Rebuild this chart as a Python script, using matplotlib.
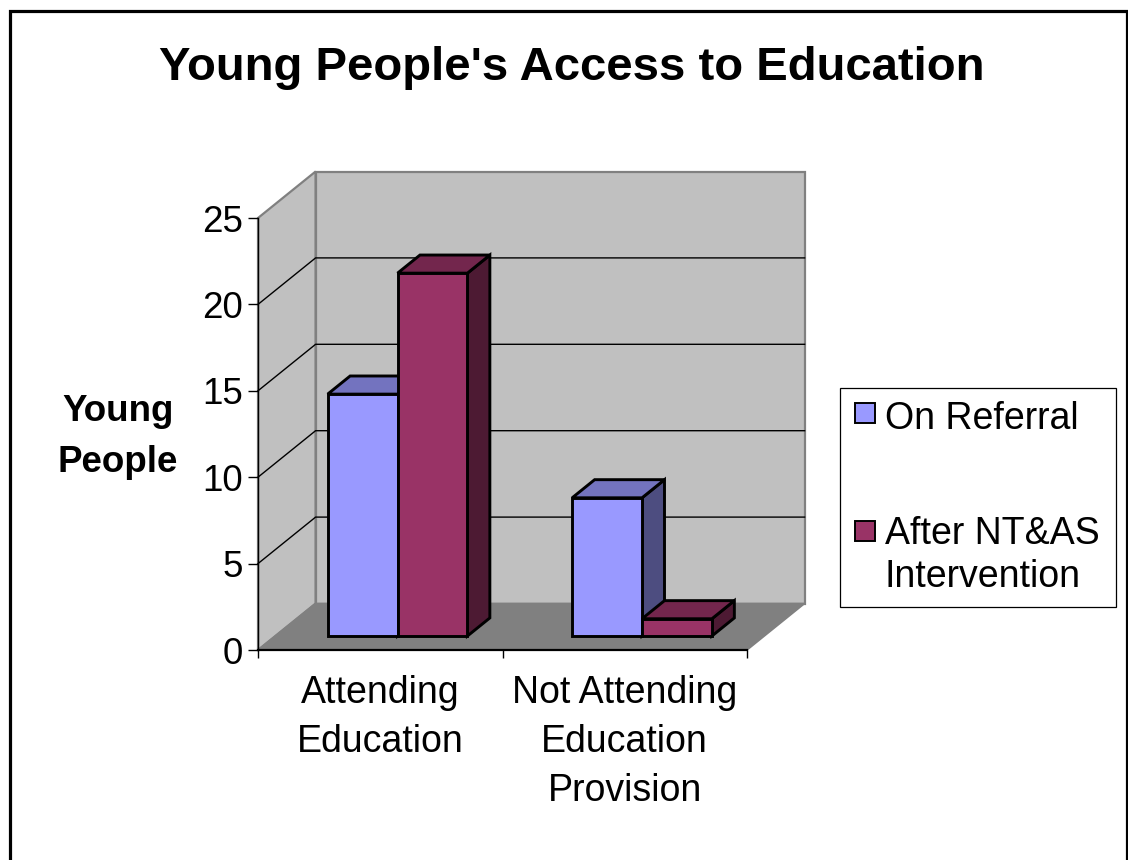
import matplotlib
matplotlib.use("Agg")
import matplotlib.pyplot as plt
from matplotlib.patches import Polygon, Rectangle

# ---------------- data ----------------
title = "Young People's Access to Education"
categories = ["Attending\nEducation", "Not Attending\nEducation\nProvision"]
series_names = ["On Referral", "After NT&AS\nIntervention"]
on_referral = [14, 8]
after_intervention = [21, 1]
y_ticks = [0, 5, 10, 15, 20, 25]
y_label = "Young\nPeople"

series = [on_referral, after_intervention]
# (front, top, side) colours per series
series_colors = [("#9999FF", "#7373BF", "#4D4D80"),
                 ("#993366", "#73264D", "#4D1A33")]

# ---------------- figure ----------------
W, H = 1128, 860
plt.rcParams['font.family'] = ['Liberation Sans', 'DejaVu Sans']
fig = plt.figure(figsize=(W / 100, H / 100), dpi=100)
fig.patch.set_facecolor("white")


def fx(px):
    return px / W


def fy(py):
    return 1 - py / H


# front plane of the 3-D box: x 258..747 px, y 650 (0) .. 218 (25)
ax = fig.add_axes([fx(258), fy(650), (747 - 258) / W, (650 - 218) / H])
n = len(categories)
ymax = y_ticks[-1]
ax.set_xlim(0, n)
ax.set_ylim(0, ymax)
ax.patch.set_visible(False)

px_per_cat = (747 - 258) / n
px_per_val = (650 - 218) / ymax
DX = 57.6 / px_per_cat      # depth offset in category units
DY = 46.5 / px_per_val      # depth offset in value units


def P(x, y, f):
    return (x + f * DX, y + f * DY)


wall_c, floor_c, edge_c = "#C0C0C0", "#808080", "#808080"

# walls
ax.add_patch(Polygon([P(0, 0, 0), P(0, 0, 1), P(0, ymax, 1), P(0, ymax, 0)],
                     closed=True, fc=wall_c, ec=edge_c, lw=1.6, clip_on=False, zorder=1))
ax.add_patch(Polygon([P(0, 0, 1), P(n, 0, 1), P(n, ymax, 1), P(0, ymax, 1)],
                     closed=True, fc=wall_c, ec=edge_c, lw=1.6, clip_on=False, zorder=1))
# gridlines on walls
for v in y_ticks[1:-1]:
    pts = [P(0, v, 0), P(0, v, 1), P(n, v, 1)]
    ax.plot([p[0] for p in pts], [p[1] for p in pts], color="black", lw=1.0,
            clip_on=False, zorder=1.5, solid_joinstyle="miter")
# floor
ax.add_patch(Polygon([P(0, 0, 0), P(n, 0, 0), P(n, 0, 1), P(0, 0, 1)],
                     closed=True, fc=floor_c, ec=edge_c, lw=1.2, clip_on=False, zorder=1.8))

# bars
gap = 1.5
bw = 1.0 / (len(series) + gap)
f0, f1 = 0.30, 0.69
for i in range(n):
    for s, vals in enumerate(series):
        v = vals[i]
        fc_front, fc_top, fc_side = series_colors[s]
        x0 = i + gap / 2 * bw + s * bw
        x1 = x0 + bw
        kw = dict(closed=True, ec="black", lw=2.1, clip_on=False,
                  joinstyle="miter", zorder=3)
        ax.add_patch(Polygon([P(x1, 0, f0), P(x1, 0, f1), P(x1, v, f1), P(x1, v, f0)],
                             fc=fc_side, **kw))
        ax.add_patch(Polygon([P(x0, v, f0), P(x1, v, f0), P(x1, v, f1), P(x0, v, f1)],
                             fc=fc_top, **kw))
        ax.add_patch(Polygon([P(x0, 0, f0), P(x1, 0, f0), P(x1, v, f0), P(x0, v, f0)],
                             fc=fc_front, **kw))

# axes lines and ticks
for side in ("top", "right"):
    ax.spines[side].set_visible(False)
ax.spines["left"].set_color("black")
ax.spines["left"].set_linewidth(1.0)
ax.spines["bottom"].set_color("black")
ax.spines["bottom"].set_linewidth(1.6)
ax.spines["left"].set_zorder(2)
ax.spines["bottom"].set_zorder(2)

ax.set_yticks(y_ticks)
ax.set_yticklabels([str(t) for t in y_ticks])
ax.tick_params(axis="y", direction="out", length=7.5, width=1.0, color="black",
               labelsize=26.5, pad=3.5)
ax.set_xticks(range(n + 1))
ax.set_xticklabels([""] * (n + 1))
ax.tick_params(axis="x", which="major", direction="out", length=6, width=1.0)
ax.set_xticks([i + 0.5 for i in range(n)], minor=True)
ax.set_xticklabels(categories, minor=True)
ax.tick_params(axis="x", which="minor", length=0, labelsize=27, pad=18)

for lbl in ax.get_xticklabels(minor=True):
    lbl.set_linespacing(1.47)
    lbl.set_multialignment("center")

# title
fig.text(fx(572), fy(80), title, ha="center", va="baseline",
         fontsize=34, fontweight="bold")
# y label (va='baseline' anchors the last line)
fig.text(fx(118), fy(472), y_label, ha="center", va="baseline",
         fontsize=26.5, fontweight="bold", multialignment="center",
         linespacing=1.6)

# legend
fig.patches.append(Rectangle((fx(840), fy(607)), (1116 - 840) / W, (607 - 388) / H,
                             transform=fig.transFigure, fc="white", ec="black", lw=0.9))
legend_rows = [(413, 429), (531, 587)]
for s, name in enumerate(series_names):
    cy, base = legend_rows[s]
    fig.patches.append(Rectangle((fx(855), fy(cy + 10)), 20 / W, 20 / H,
                                 transform=fig.transFigure, fc=series_colors[s][0],
                                 ec="black", lw=1.4))
    fig.text(fx(885), fy(base), name, ha="left", va="baseline", fontsize=27,
             linespacing=1.24)

# outer border
fig.patches.append(Rectangle((fx(9.5), fy(875)), (1126.5 - 9.5) / W, (875 - 11) / H,
                             transform=fig.transFigure, fill=False, ec="black", lw=2.3,
                             clip_on=False))

fig.savefig("out.png", dpi=100)
